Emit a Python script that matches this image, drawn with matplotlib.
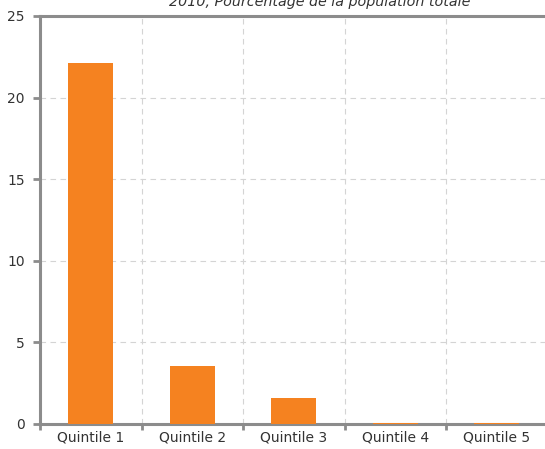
import numpy as np
import matplotlib.pyplot as plt

# Data
categories = ['Quintile 1', 'Quintile 2', 'Quintile 3', 'Quintile 4', 'Quintile 5']
values = [22.1, 3.55, 1.6, 0.05, 0.05]
title = '2010, Pourcentage de la population totale'

bar_color = '#f58220'
axis_gray = '#8c8c8c'
text_color = '#333333'

plt.rcParams['font.family'] = ['DejaVu Sans']

fig = plt.figure(figsize=(5.45, 4.49), dpi=100)
ax = fig.add_axes([0.0734, 0.0557, 0.9312, 0.9087])

x = np.arange(len(categories))
ax.bar(x, values, width=0.44, color=bar_color, zorder=3)

ax.set_xlim(-0.5, len(categories) - 0.5)
ax.set_ylim(0, 25)
ax.set_yticks([0, 5, 10, 15, 20, 25])

ax.set_xticks(x)
ax.set_xticklabels(categories)
ax.set_xticks(np.arange(-0.5, len(categories) - 0.5, 1.0), minor=True)
ax.tick_params(axis='x', which='major', length=0, pad=5, labelsize=10, labelcolor=text_color)
ax.tick_params(axis='x', which='minor', length=4, width=2, color=axis_gray)
ax.tick_params(axis='y', length=5, width=2, color=axis_gray, labelsize=10,
               labelcolor=text_color, pad=6)

ax.grid(axis='x', which='minor', linestyle=(0, (5, 4)), color='#d4d4d4', linewidth=0.8, zorder=0)
ax.grid(axis='y', which='major', linestyle=(0, (5, 4)), color='#d4d4d4', linewidth=0.8, zorder=0)

for side in ['left', 'top', 'bottom']:
    ax.spines[side].set_color(axis_gray)
    ax.spines[side].set_linewidth(2.2)
ax.spines['right'].set_visible(False)

fig.text(0.587, 0.987, title, ha='center', va='baseline', style='italic',
         fontsize=10.3, color=text_color)

fig.savefig('out.png', dpi=100)
